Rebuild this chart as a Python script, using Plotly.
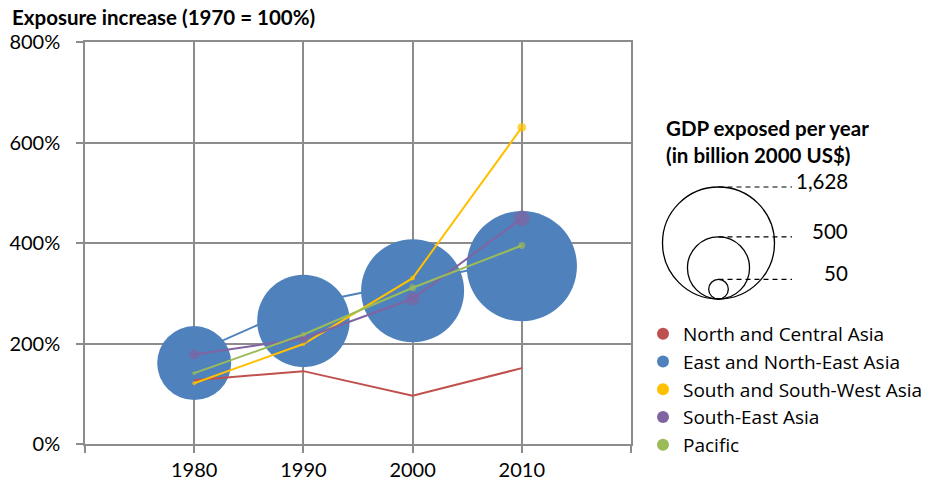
import plotly.graph_objects as go

# ---------------- data ----------------
years = [1980, 1990, 2000, 2010]
series_names = ["North and Central Asia", "East and North-East Asia",
                "South and South-West Asia", "South-East Asia", "Pacific"]
series_colors = ["#C0504D", "#4F81BD", "#FFC000", "#8064A2", "#9BBB59"]

# exposure increase (% of 1970)
north_central = [127, 145, 96, 151]
east_ne_line = [181, 277, 322, 368]
east_ne_bubble = [161, 245, 305, 354]
south_sw = [121, 199, 330, 630]
south_east = [178, 210, 289, 449]
pacific = [141, 218, 311, 395]

# GDP exposed per year (billion 2000 US$) -> bubble area
gdp_north_central = [0.3, 0.3, 0.3, 0.3]
gdp_east_ne = [711, 1110, 1377, 1580]
gdp_south_sw = [2, 2, 3, 10]
gdp_south_east = [13, 13, 24, 33]
gdp_pacific = [2, 3, 6, 6]

size_legend_values = [1628, 500, 50]
size_legend_labels = ["1,628", "500", "50"]

y_ticks = [0, 200, 400, 600, 800]
y_ticktext = [f"{v}%" for v in y_ticks]
x_ticks = [1970, 1980, 1990, 2000, 2010, 2020]
x_ticktext = ["", "1980", "1990", "2000", "2010", ""]

# ---------------- style ----------------
W, H = 938, 497
ML, MR, MT, MB = 85, 307, 42, 53
PW, PH = W - ML - MR, H - MT - MB
BUBBLE_MAX_PX = 112
px_ref = max(size_legend_values) / BUBBLE_MAX_PX ** 2   # value per px^2 of diameter
plotly_sizeref = 2 * px_ref
FONT = "Lato"
LEGEND_FONT = "Open Sans"
GRID = "#8C8C8C"


def bubble_diameter(v):
    return (v / px_ref) ** 0.5


fig = go.Figure()

fig.add_trace(go.Scatter(x=years, y=east_ne_line, mode="lines",
                         line=dict(color=series_colors[1], width=2),
                         showlegend=False, hoverinfo="skip"))
fig.add_trace(go.Scatter(x=years, y=east_ne_bubble, mode="markers",
                         marker=dict(size=gdp_east_ne, sizemode="area", sizeref=plotly_sizeref,
                                     color=series_colors[1], opacity=1, line=dict(width=0)),
                         showlegend=False))

others = [
    (north_central, gdp_north_central, series_colors[0]),
    (south_sw, gdp_south_sw, series_colors[2]),
    (south_east, gdp_south_east, series_colors[3]),
    (pacific, gdp_pacific, series_colors[4]),
]
for yv, sv, col in others:
    fig.add_trace(go.Scatter(x=years, y=yv, mode="lines+markers",
                             line=dict(color=col, width=2),
                             marker=dict(size=sv, sizemode="area", sizeref=plotly_sizeref,
                                         color=col, line=dict(width=0)),
                             showlegend=False))

for name, col in zip(series_names, series_colors):
    fig.add_trace(go.Scatter(x=[None], y=[None], mode="markers", name=name,
                             marker=dict(size=12, color=col)))


def px_to_paper_x(px):
    return (px - ML) / PW


def px_to_paper_y(py):
    return (H - MB - py) / PH


cx_px, bottom_px = 718.5, 299
dash_end_px = 792
label_right_px = 850
shapes = []
annotations = []
for val, lab in zip(size_legend_values, size_legend_labels):
    d = bubble_diameter(val)
    top_px = bottom_px - d
    shapes.append(dict(type="circle", xref="paper", yref="paper",
                       x0=px_to_paper_x(cx_px - d / 2), x1=px_to_paper_x(cx_px + d / 2),
                       y0=px_to_paper_y(bottom_px), y1=px_to_paper_y(top_px),
                       line=dict(color="black", width=1.3), fillcolor="rgba(0,0,0,0)"))
    shapes.append(dict(type="line", xref="paper", yref="paper",
                       x0=px_to_paper_x(cx_px), x1=px_to_paper_x(dash_end_px),
                       y0=px_to_paper_y(top_px), y1=px_to_paper_y(top_px),
                       line=dict(color="black", width=1.2, dash="5px,4px")))
    annotations.append(dict(text=lab, xref="paper", yref="paper",
                            x=px_to_paper_x(label_right_px), y=px_to_paper_y(top_px - 6),
                            xanchor="right", yanchor="middle", showarrow=False,
                            font=dict(family=FONT, size=20.5, color="black")))

annotations.append(dict(text="<b>GDP exposed per year<br>(in billion 2000 US$)</b>",
                        xref="paper", yref="paper", x=px_to_paper_x(664), y=px_to_paper_y(141.5),
                        xanchor="left", yanchor="middle", align="left", showarrow=False,
                        font=dict(family=FONT, size=20.5, color="black")))

fig.update_layout(
    width=W, height=H,
    margin=dict(l=ML, r=MR, t=MT, b=MB, autoexpand=False),
    paper_bgcolor="white", plot_bgcolor="white",
    font=dict(family=FONT, size=21, color="black"),
    title=dict(text="<b>Exposure increase (1970 = 100%)</b>", x=12 / W, y=1 - 18 / H,
               xanchor="left", yanchor="middle", xref="container", yref="container",
               font=dict(family=FONT, size=20.5, color="black")),
    xaxis=dict(range=[1970, 2020], tickmode="array", tickvals=x_ticks, ticktext=x_ticktext,
               showgrid=True, gridcolor=GRID, gridwidth=1.5,
               showline=True, linecolor=GRID, linewidth=1.5, mirror=True,
               ticks="outside", ticklen=7, tickcolor=GRID, tickwidth=1.5,
               automargin=False,
               zeroline=False, tickfont=dict(family=FONT, size=20)),
    yaxis=dict(range=[0, 800], tickmode="array", tickvals=y_ticks, ticktext=y_ticktext,
               showgrid=True, gridcolor=GRID, gridwidth=1.5,
               showline=True, linecolor=GRID, linewidth=1.5, mirror=True,
               ticks="outside", ticklen=7, tickcolor=GRID, tickwidth=1.5,
               ticklabelstandoff=12, automargin=False,
               zeroline=False, tickfont=dict(family=FONT, size=20)),
    legend=dict(xref="container", yref="container", x=643 / W, y=1 - 315 / H,
                xanchor="left", yanchor="top",
                font=dict(family=LEGEND_FONT, size=19, color="black"),
                bgcolor="rgba(0,0,0,0)", itemsizing="constant"),
    shapes=shapes, annotations=annotations,
)

fig.write_html("out.html")
